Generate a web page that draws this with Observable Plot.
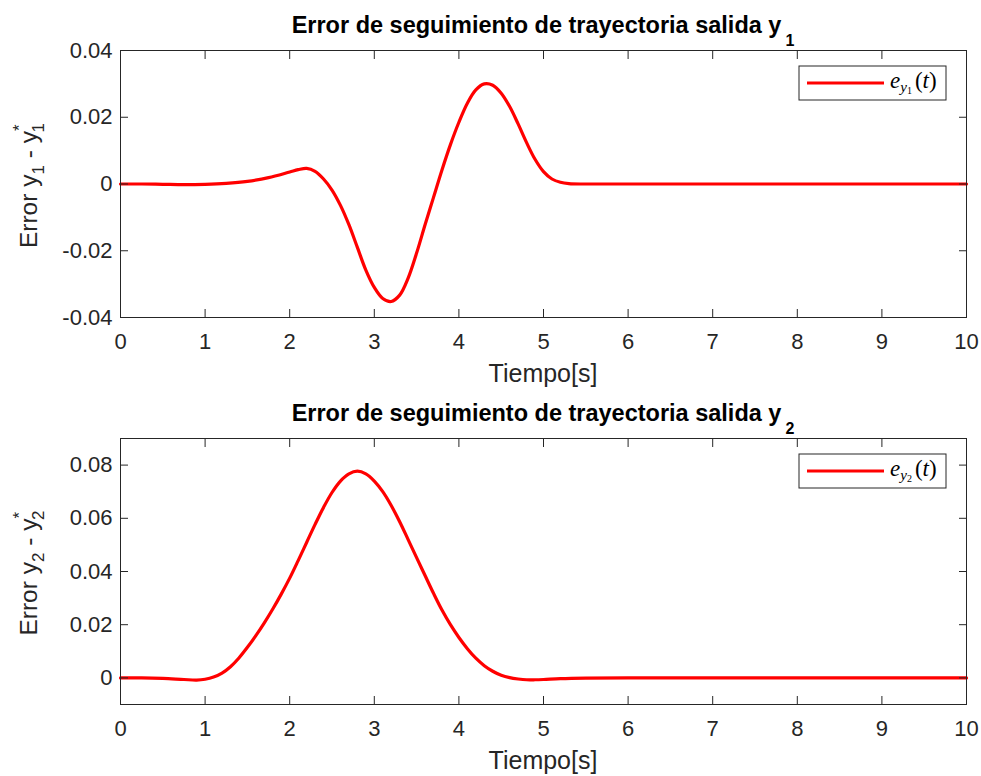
<!DOCTYPE html>
<html>
<head>
<meta charset="utf-8">
<script src="https://cdn.jsdelivr.net/npm/d3@7"></script>
<script src="https://cdn.jsdelivr.net/npm/@observablehq/plot@0.6"></script>
<style>
  body { margin: 0; background: #fff; }
  #fig { position: relative; width: 981px; height: 776px; background: #fff; overflow: hidden; }
  #fig svg { position: absolute; left: 0; }
</style>
</head>
<body>
<div id="fig"></div>
<script>
// Tracking error of output y1 (seconds, error)
const time1 = [0, 0.25, 0.5, 0.75, 1.0, 1.25, 1.5, 1.75, 2.0, 2.1, 2.2, 2.3, 2.4, 2.5, 2.6, 2.7, 2.8, 2.9, 3.0, 3.1, 3.2, 3.3, 3.4, 3.5, 3.6, 3.7, 3.8, 3.9, 4.0, 4.1, 4.2, 4.3, 4.4, 4.5, 4.6, 4.7, 4.8, 4.9, 5.0, 5.1, 5.2, 5.3, 5.5, 6, 7, 8, 9, 10];
const error1 = [0, 0, -0.0001, -0.0002, -0.0001, 0.0002, 0.0008, 0.0019, 0.0036, 0.0043, 0.0047, 0.0038, 0.0015, -0.0018, -0.0064, -0.0122, -0.0190, -0.0258, -0.0310, -0.0343, -0.0352, -0.0333, -0.0282, -0.0207, -0.0122, -0.0040, 0.0042, 0.0118, 0.0185, 0.0242, 0.0282, 0.0300, 0.0296, 0.0272, 0.0232, 0.0180, 0.0124, 0.0074, 0.0037, 0.0015, 0.0005, 0.0001, 0, 0, 0, 0, 0, 0];

// Tracking error of output y2
const time2 = [0, 0.25, 0.5, 0.75, 0.9, 1.0, 1.1, 1.2, 1.3, 1.4, 1.5, 1.6, 1.7, 1.8, 1.9, 2.0, 2.1, 2.2, 2.3, 2.4, 2.5, 2.6, 2.7, 2.8, 2.9, 3.0, 3.1, 3.2, 3.3, 3.4, 3.5, 3.6, 3.7, 3.8, 3.9, 4.0, 4.1, 4.2, 4.3, 4.4, 4.5, 4.6, 4.7, 4.8, 4.9, 5.0, 5.2, 5.5, 6, 7, 8, 9, 10];
const error2 = [0, 0, -0.0002, -0.0006, -0.0008, -0.0005, 0.0003, 0.0018, 0.0042, 0.0075, 0.0115, 0.0159, 0.0207, 0.0259, 0.0315, 0.0375, 0.0441, 0.0509, 0.0577, 0.0641, 0.0697, 0.0740, 0.0767, 0.0777, 0.0767, 0.0740, 0.0700, 0.0648, 0.0587, 0.0520, 0.0452, 0.0385, 0.0318, 0.0255, 0.0200, 0.0152, 0.0110, 0.0074, 0.0046, 0.0025, 0.0010, 0.0001, -0.0004, -0.0007, -0.0007, -0.0006, -0.0003, -0.0001, 0, 0, 0, 0, 0];

const xTicks = [0, 1, 2, 3, 4, 5, 6, 7, 8, 9, 10];
const yTicks1 = [-0.04, -0.02, 0, 0.02, 0.04];
const yTicks2 = [0, 0.02, 0.04, 0.06, 0.08];
const yDomain1 = [-0.04, 0.04];
const yDomain2 = [-0.01, 0.09];

const axisColor = "#262626";
const sansFont = "'Liberation Sans', Arial, Helvetica, sans-serif";
const serifFont = "'Liberation Serif', 'Times New Roman', serif";
const fmt = d => (d === 0 ? "0" : d.toFixed(2));

function panel({t, e, yDomain, yTicks, top, height, marginBottom, sub}) {
  const W = 981, mL = 120, mR = 15, mT = 50;
  const svg = Plot.plot({
    width: W, height, marginLeft: mL, marginRight: mR, marginTop: mT, marginBottom,
    x: {domain: [0, 10]},
    y: {domain: yDomain},
    style: {fontFamily: sansFont, fontSize: "22px", color: axisColor, background: "white", overflow: "visible"},
    marks: [
      Plot.line(t.map((d, i) => ({t: d, e: e[i]})), {x: "t", y: "e", stroke: "#ff0000", strokeWidth: 3.2, curve: "catmull-rom"}),
      Plot.frame({stroke: axisColor, strokeWidth: 1}),
      Plot.axisX(xTicks, {anchor: "bottom", tickSize: -8, tickPadding: 24, tickFormat: d => String(d), label: null, stroke: axisColor}),
      Plot.axisX(xTicks, {anchor: "top", tickSize: -8, tickFormat: () => "", label: null, stroke: axisColor}),
      Plot.axisY(yTicks, {anchor: "left", tickSize: -8, tickPadding: 16, tickFormat: fmt, label: null, stroke: axisColor}),
      Plot.axisY(yTicks, {anchor: "right", tickSize: -8, tickFormat: () => "", label: null, stroke: axisColor})
    ]
  });
  svg.style.top = top + "px";
  const s = d3.select(svg);
  const x0 = mL, x1 = W - mR, y0 = mT, y1 = height - marginBottom;
  const cx = (x0 + x1) / 2, cy = (y0 + y1) / 2;

  // title
  const title = s.append("text")
    .attr("x", cx).attr("y", y0 - 17)
    .attr("text-anchor", "middle")
    .attr("font-family", sansFont).attr("font-size", 23.5).attr("font-weight", "bold")
    .attr("fill", "#000");
  title.append("tspan").text("Error de seguimiento de trayectoria salida y");
  title.append("tspan").attr("dx", 4).attr("dy", 13).attr("font-size", 16).text(sub);

  // x label
  s.append("text")
    .attr("x", cx).attr("y", y1 + 65)
    .attr("text-anchor", "middle")
    .attr("font-family", sansFont).attr("font-size", 25)
    .attr("fill", axisColor)
    .text("Tiempo[s]");

  // y label
  const yl = s.append("text")
    .attr("transform", `translate(37,${cy + 2}) rotate(-90)`)
    .attr("text-anchor", "middle")
    .attr("font-family", sansFont).attr("font-size", 24.5)
    .attr("fill", axisColor);
  yl.append("tspan").text("Error y");
  yl.append("tspan").attr("dy", 7).attr("font-size", 17).text(sub);
  yl.append("tspan").attr("dy", -7).text(" - y");
  yl.append("tspan").attr("dy", -12).attr("font-size", 17).text("*");
  yl.append("tspan").attr("dx", -8).attr("dy", 19).attr("font-size", 17).text(sub);

  // legend
  const lg = s.append("g");
  lg.append("rect")
    .attr("x", x1 - 167).attr("y", y0 + 16).attr("width", 147).attr("height", 34)
    .attr("fill", "white").attr("stroke", axisColor).attr("stroke-width", 1);
  lg.append("line")
    .attr("x1", x1 - 159).attr("x2", x1 - 82).attr("y1", y0 + 33).attr("y2", y0 + 33)
    .attr("stroke", "#ff0000").attr("stroke-width", 3.2);
  const lt = lg.append("text")
    .attr("x", x1 - 76).attr("y", y0 + 38)
    .attr("text-anchor", "start")
    .attr("font-family", serifFont).attr("font-size", 23).attr("fill", "#000");
  lt.append("tspan").attr("font-style", "italic").text("e");
  lt.append("tspan").attr("font-style", "italic").attr("font-size", 15).attr("dy", 4).text("y");
  lt.append("tspan").attr("font-size", 10).attr("dy", 2).text(sub);
  lt.append("tspan").attr("dy", -6).attr("dx", 3).text("(");
  lt.append("tspan").attr("font-style", "italic").text("t");
  lt.append("tspan").text(")");

  return svg;
}

const fig = document.getElementById("fig");
fig.appendChild(panel({t: time1, e: error1, yDomain: yDomain1, yTicks: yTicks1, top: 0, height: 388, marginBottom: 71, sub: "1"}));
fig.appendChild(panel({t: time2, e: error2, yDomain: yDomain2, yTicks: yTicks2, top: 388, height: 388, marginBottom: 72, sub: "2"}));
</script>
</body>
</html>
